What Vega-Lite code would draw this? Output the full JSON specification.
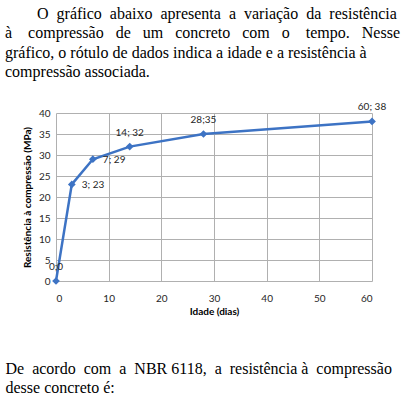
{
  "$schema": "https://vega.github.io/schema/vega-lite/v6.json",
  "background": "white",
  "padding": {"left": 5, "top": 5, "right": 5, "bottom": 0},
  "title": {
    "text": ["\u200b\u2003\u2003O\u2002gráfico\u2002abaixo\u2002apresenta\u2002a\u2002variação\u2002da\u2002resistência", "à\u2003compressão \u2002de \u2002um \u2002concreto \u2002com \u2002o\u2003tempo. \u2002Nesse", "gráfico, o rótulo de dados indica a idade e a resistência à", "compressão associada."],
    "anchor": "start",
    "frame": "group",
    "align": "left",
    "dx": -51,
    "offset": 22,
    "font": "Liberation Serif, serif",
    "fontSize": 16,
    "fontWeight": "normal",
    "lineHeight": 19.5,
    "color": "#000000"
  },
  "width": 316,
  "height": 168,
  "data": {
    "values": [
      {"idade": 0, "resistencia": 0, "rotulo": "0;0", "pos": "above"},
      {"idade": 3, "resistencia": 23, "rotulo": "3; 23", "pos": "right"},
      {"idade": 7, "resistencia": 29, "rotulo": "7; 29", "pos": "right"},
      {"idade": 14, "resistencia": 32, "rotulo": "14; 32", "pos": "above"},
      {"idade": 28, "resistencia": 35, "rotulo": "28;35", "pos": "above"},
      {"idade": 60, "resistencia": 38, "rotulo": "60; 38", "pos": "above"}
    ]
  },
  "layer": [
    {
      "encoding": {
        "x": {
          "field": "idade",
          "type": "quantitative",
          "scale": {"domain": [0, 60], "nice": false},
          "axis": {
            "orient": "bottom",
            "values": [0, 10, 20, 30, 40, 50, 60],
            "title": "Idade (dias)",
            "titleFont": "Lato",
            "titleFontSize": 10,
            "titleFontWeight": "bold",
            "titleColor": "#000000",
            "titlePadding": 3,
            "labelFont": "Lato",
            "labelFontSize": 10,
            "labelColor": "#262626",
            "labelPadding": 12,
            "ticks": false,
            "domain": false,
            "grid": true,
            "gridColor": "#b0b0b0",
            "gridWidth": 1
          }
        },
        "y": {
          "field": "resistencia",
          "type": "quantitative",
          "scale": {"domain": [0, 40], "nice": false},
          "axis": {
            "values": [0, 5, 10, 15, 20, 25, 30, 35, 40],
            "title": "Resistência à compressão (MPa)",
            "titleFont": "Lato",
            "titleFontSize": 10,
            "titleFontWeight": "bold",
            "titleColor": "#000000",
            "titlePadding": 6,
            "labelFont": "Lato",
            "labelFontSize": 10,
            "labelColor": "#262626",
            "labelPadding": 6,
            "ticks": false,
            "domain": false,
            "grid": true,
            "gridColor": "#b0b0b0",
            "gridWidth": 1
          }
        }
      },
      "layer": [
        {"mark": {"type": "line", "color": "#3d73c4", "strokeWidth": 2.5}},
        {"mark": {"type": "point", "shape": "diamond", "filled": true, "opacity": 1, "color": "#3d73c4", "size": 60}},
        {
          "transform": [{"filter": "datum.pos == 'above'"}],
          "mark": {"type": "text", "font": "Lato", "fontSize": 10, "color": "#262626", "align": "center", "baseline": "middle", "dy": -14},
          "encoding": {"text": {"field": "rotulo"}}
        },
        {
          "transform": [{"filter": "datum.pos == 'right'"}],
          "mark": {"type": "text", "font": "Lato", "fontSize": 10, "color": "#262626", "align": "left", "baseline": "middle", "dx": 10, "dy": 1},
          "encoding": {"text": {"field": "rotulo"}}
        }
      ]
    },
    {
      "mark": {"type": "point", "opacity": 0},
      "encoding": {
        "x": {
          "field": "idade",
          "type": "quantitative",
          "scale": {"domain": [0, 60], "nice": false},
          "axis": {
            "orient": "bottom",
            "labels": false,
            "ticks": false,
            "domain": false,
            "grid": false,
            "title": ["De\u2002acordo\u2002com\u2002a\u2002NBR 6118,\u2002a\u2002resistência à\u2002compressão", "desse concreto é:"],
            "titleFont": "Liberation Serif, serif",
            "titleFontSize": 16,
            "titleFontWeight": "normal",
            "titleColor": "#000000",
            "titleLineHeight": 19,
            "titleAnchor": "start",
            "titleAlign": "left",
            "titleBaseline": "top",
            "titleX": -51,
            "titleY": 79.5
          }
        }
      }
    }
  ],
  "resolve": {"scale": {"x": "independent"}, "axis": {"x": "independent"}},
  "config": {"view": {"stroke": null}}
}
